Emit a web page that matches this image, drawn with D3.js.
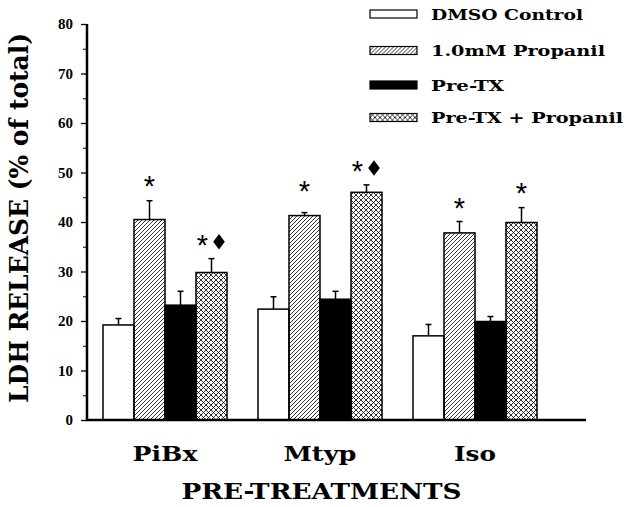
<!DOCTYPE html>
<html>
<head>
<meta charset="utf-8">
<script src="https://cdn.jsdelivr.net/npm/d3@7"></script>
<style>
body { margin: 0; background: #fff; }
svg { display: block; }
</style>
</head>
<body>
<script>
var groups = ['PiBx', 'Mtyp', 'Iso'];
var series = ['DMSO Control', '1.0mM Propanil', 'Pre-TX', 'Pre-TX + Propanil'];

// mean LDH release per series, one value per group
var dmso = [19.2, 22.4, 17.0];
var propanil = [40.5, 41.3, 37.8];
var pretx = [23.2, 24.4, 19.9];
var pretxProp = [29.8, 46.0, 39.9];

// upper error bar lengths
var dmsoErr = [1.3, 2.5, 2.3];
var propanilErr = [3.8, 0.6, 2.3];
var pretxErr = [2.8, 1.6, 1.0];
var pretxPropErr = [2.8, 1.5, 3.0];

// significance marks: group, series index, symbols, level
var marks = [
  ['PiBx', 1, '*', 47.9],
  ['PiBx', 3, '*d', 36.0],
  ['Mtyp', 1, '*', 46.9],
  ['Mtyp', 3, '*d', 50.9],
  ['Iso', 1, '*', 43.4],
  ['Iso', 3, '*', 46.5]
];

var yTicks = [0, 10, 20, 30, 40, 50, 60, 70, 80];
var yMinor = [5, 15, 25, 35, 45, 55, 65, 75];

var values = [dmso, propanil, pretx, pretxProp];
var errs = [dmsoErr, propanilErr, pretxErr, pretxPropErr];
var fills = ['#fff', 'url(#hatch)', '#000', 'url(#cross)'];

var W = 629, H = 507;
var svg = d3.select('body').append('svg')
   .attr('width', W)
   .attr('height', H);

var defs = svg.append('defs');
var hp = defs.append('pattern')
   .attr('id', 'hatch')
   .attr('patternUnits', 'userSpaceOnUse')
   .attr('width', 4).attr('height', 4);
hp.append('path')
   .attr('d', 'M-1,1 l2,-2 M0,4 l4,-4 M3,5 l2,-2')
   .attr('stroke', '#000').attr('stroke-width', 0.8);

var cp = defs.append('pattern')
   .attr('id', 'cross')
   .attr('patternUnits', 'userSpaceOnUse')
   .attr('width', 5).attr('height', 5);
cp.append('path')
   .attr('d', 'M-1,1 l2,-2 M0,5 l5,-5 M4,6 l2,-2 M-1,4 l2,2 M0,0 l5,5 M4,-1 l2,2')
   .attr('stroke', '#000').attr('stroke-width', 0.8);

var y = d3.scaleLinear().domain([0, 80]).range([420, 24]);
var x0 = d3.scaleBand().domain(groups).range([103, 537]).paddingInner(0.2).paddingOuter(0);
var x1 = d3.scaleBand().domain(d3.range(series.length)).range([0, x0.bandwidth()]);

var serif = 'DejaVu Serif, serif';

// bars
var rows = [];
groups.forEach(function(g, gi) {
  series.forEach(function(s, si) {
    rows.push({g: g, si: si, v: values[si][gi], e: errs[si][gi]});
  });
});

var bars = svg.append('g').selectAll('g.bar')
   .data(rows).enter().append('g').attr('class', 'bar')
   .attr('transform', function(d) { return 'translate(' + (x0(d.g) + x1(d.si)) + ',0)'; });

bars.append('line')
   .attr('x1', x1.bandwidth() / 2).attr('x2', x1.bandwidth() / 2)
   .attr('y1', function(d) { return y(d.v); })
   .attr('y2', function(d) { return y(d.v + d.e); })
   .attr('stroke', '#000').attr('stroke-width', 1.5);
bars.append('line')
   .attr('x1', x1.bandwidth() / 2 - 3).attr('x2', x1.bandwidth() / 2 + 3)
   .attr('y1', function(d) { return y(d.v + d.e); })
   .attr('y2', function(d) { return y(d.v + d.e); })
   .attr('stroke', '#000').attr('stroke-width', 1.5);
bars.append('rect')
   .attr('x', 0)
   .attr('width', x1.bandwidth())
   .attr('y', function(d) { return y(d.v); })
   .attr('height', function(d) { return y(0) - y(d.v); })
   .attr('fill', function(d) { return fills[d.si]; })
   .attr('stroke', '#000').attr('stroke-width', 1.5);

// significance
marks.forEach(function(m) {
  var cx = x0(m[0]) + x1(m[1]) + x1.bandwidth() / 2;
  var two = m[2].length > 1;
  svg.append('text')
     .attr('x', two ? cx - 9 : cx)
     .attr('y', y(m[3]) + 13)
     .attr('text-anchor', 'middle')
     .attr('font-family', 'Liberation Sans, sans-serif')
     .attr('font-size', 29)
     .text('*');
  if (two) {
    svg.append('path')
       .attr('d', d3.symbol().type(d3.symbolDiamond).size(70))
       .attr('transform', 'translate(' + (cx + 7.5) + ',' + y(m[3]) + ') scale(1.3,1)')
       .attr('fill', '#000');
  }
});

// axes
var ya = svg.append('g').attr('transform', 'translate(87,0)')
   .call(d3.axisLeft(y).tickValues(yTicks).tickSize(6).tickPadding(8));
ya.select('.domain').remove();
ya.selectAll('text')
   .attr('font-family', 'Liberation Serif, serif')
   .attr('font-size', 15)
   .attr('font-weight', 'bold');
ya.selectAll('line').attr('stroke-width', 1.3);
var ym = svg.append('g').attr('transform', 'translate(87,0)')
   .call(d3.axisLeft(y).tickValues(yMinor).tickSize(4).tickFormat(''));
ym.select('.domain').remove();

svg.append('line')
   .attr('x1', 87).attr('x2', 87)
   .attr('y1', y(80)).attr('y2', y(0) + 1)
   .attr('stroke', '#000').attr('stroke-width', 2.5);
svg.append('line')
   .attr('x1', 86).attr('x2', 586)
   .attr('y1', y(0)).attr('y2', y(0))
   .attr('stroke', '#000').attr('stroke-width', 2.5);

// bold serif text, stretched to the widths of the original lettering
function label(sel, size, len) {
  return sel.attr('font-family', serif)
     .attr('font-weight', 'bold')
     .attr('font-size', size)
     .attr('textLength', len)
     .attr('lengthAdjust', 'spacingAndGlyphs');
}

var catWidth = {PiBx: 65, Mtyp: 73, Iso: 42};
svg.append('g').selectAll('text')
   .data(groups).enter().append('text')
   .attr('x', function(g) { return x0(g) + x0.bandwidth() / 2 - catWidth[g] / 2; })
   .attr('y', 460.5)
   .text(function(g) { return g; })
   .each(function(g) { label(d3.select(this), 20.5, catWidth[g]); });

label(svg.append('text')
   .attr('x', 181.5).attr('y', 498.5)
   .text('PRE-TREATMENTS'), 23, 280);

label(svg.append('text')
   .attr('transform', 'translate(28,403) rotate(-90)')
   .text('LDH RELEASE (% of total)'), 26, 370);

// legend
var legWidth = [152, 174, 73, 192];
var lg = svg.append('g').selectAll('g')
   .data(series).enter().append('g')
   .attr('transform', function(d, i) { return 'translate(370,' + [14, 50.5, 85, 117.5][i] + ')'; });
lg.append('rect')
   .attr('x', 0).attr('y', -4)
   .attr('width', 47).attr('height', 8)
   .attr('fill', function(d, i) { return fills[i]; })
   .attr('stroke', '#000').attr('stroke-width', 1.2);
lg.append('text')
   .attr('x', 61).attr('y', 5.5)
   .text(function(d) { return d; })
   .each(function(d, i) { label(d3.select(this), 14.5, legWidth[i]); });
</script>
</body>
</html>
